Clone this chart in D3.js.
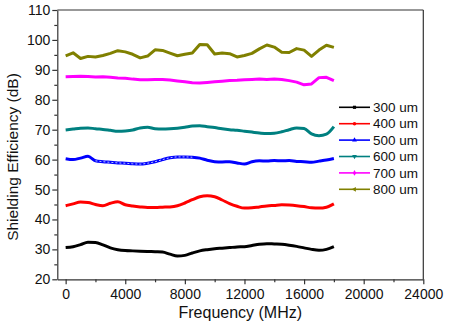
<!DOCTYPE html>
<meta charset="utf-8">
<style type="text/css">
  body { margin: 0; background: #fff; }
  svg { display: block; }
  text { font-family: "Liberation Sans", Arial, sans-serif; fill: #111; }
  .axis path, .axis line { stroke: #333; stroke-width: 1.2px; }
  .axis text { font-size: 14px; }
</style>
<body>
<script src="https://cdn.jsdelivr.net/npm/d3@7/dist/d3.min.js"></script>
<script>

// sample frequencies (MHz), one reading every 500 MHz
var freq = d3.range(0, 18001, 500);

var se300 = [30.6, 30.9, 31.6, 32.4, 32.3, 31.5, 30.5, 29.9, 29.6, 29.5, 29.4, 29.3, 29.2, 29.1, 28.4, 27.8, 28.0, 28.8, 29.5,
             29.9, 30.2, 30.4, 30.6, 30.8, 30.9, 31.3, 31.7, 31.9, 31.8, 31.7, 31.4, 31.0, 30.5, 30.0, 29.7, 30.0, 30.9];
var se400 = [44.6, 45.2, 45.8, 45.7, 45.0, 44.6, 45.4, 45.9, 44.9, 44.5, 44.2, 44.0, 44.0, 44.1, 44.2, 44.6, 45.5, 46.6, 47.6,
             47.9, 47.6, 46.5, 45.3, 44.4, 43.8, 43.9, 44.2, 44.5, 44.7, 44.9, 44.8, 44.6, 44.3, 43.9, 43.8, 44.1, 45.2];
var se500 = [60.3, 60.0, 60.5, 61.1, 59.6, 59.3, 59.1, 58.9, 58.8, 58.6, 58.5, 58.8, 59.3, 60.0, 60.6, 60.9, 60.9, 60.8, 60.5,
             59.8, 59.3, 59.2, 59.3, 58.9, 58.5, 59.3, 59.6, 59.5, 59.7, 59.6, 59.7, 59.4, 59.3, 59.1, 59.5, 59.9, 60.4];
var se600 = [69.9, 70.2, 70.5, 70.6, 70.3, 70.1, 69.8, 69.5, 69.6, 69.9, 70.6, 70.8, 70.3, 70.2, 70.3, 70.5, 70.8, 71.2, 71.3,
             71.0, 70.7, 70.3, 70.0, 69.8, 69.5, 69.2, 68.9, 68.7, 68.8, 69.3, 70.0, 70.6, 70.4, 68.6, 68.0, 68.5, 71.0];
var se700 = [87.7, 87.8, 87.9, 87.8, 87.6, 87.7, 87.5, 87.3, 87.2, 86.9, 86.7, 86.7, 86.8, 86.8, 86.6, 86.3, 86.0, 85.7, 85.6,
             85.8, 86.0, 86.2, 86.4, 86.5, 86.7, 86.8, 86.9, 86.8, 86.9, 86.8, 86.4, 85.9, 85.0, 85.3, 87.4, 87.5, 86.4];
var se800 = [94.7, 95.7, 93.8, 94.5, 94.3, 94.8, 95.5, 96.4, 96.0, 95.2, 94.0, 94.6, 96.7, 96.5, 95.6, 94.7, 95.2, 95.6, 98.5,
             98.4, 95.3, 95.6, 95.4, 94.3, 94.8, 95.5, 97.0, 98.3, 97.6, 95.9, 95.8, 97.1, 96.6, 94.5, 96.6, 98.2, 97.5];

var labels = ["300 um", "400 um", "500 um", "600 um", "700 um", "800 um"];
var colors = ["#000000", "#ff0000", "#0000ff", "#008080", "#ff00ff", "#808000"];
var shapes = [d3.symbolSquare, d3.symbolCircle, d3.symbolTriangle, d3.symbolTriangle, d3.symbolDiamond, d3.symbolTriangle];
var shapeTurn = [0, 0, 0, 180, 0, -90];
// the noisier traces keep their straight segments
var curves = [d3.curveMonotoneX, d3.curveMonotoneX, d3.curveMonotoneX, d3.curveMonotoneX, d3.curveLinear, d3.curveLinear];

var xTicks = [0, 4000, 8000, 12000, 16000, 20000, 24000];
var yTicks = [20, 30, 40, 50, 60, 70, 80, 90, 100, 110];

var series = [se300, se400, se500, se600, se700, se800].map(function(vals, i){
  return {
    name: labels[i],
    color: colors[i],
    curve: curves[i],
    points: vals.map(function(v, j){ return {f: freq[j], se: v}; })
  };
});

var width = 450, height = 334;
var margin = {top: 10, right: 26.7, bottom: 54.7, left: 57.3};
var innerW = width - margin.left - margin.right,
    innerH = height - margin.top - margin.bottom;

var svg = d3.select("body").append("svg")
  .attr("width", width)
  .attr("height", height);

var chart = svg.append("g")
  .attr("transform", "translate(" + margin.left + "," + margin.top + ")");

var x = d3.scaleLinear().domain([-560, 24000]).range([0, innerW]);
var y = d3.scaleLinear().domain([20, 110]).range([innerH, 0]);

// minor ticks first, then the labelled major ticks on top
chart.append("g")
  .attr("class", "axis")
  .attr("transform", "translate(0," + innerH + ")")
  .call(d3.axisBottom(x).tickValues(d3.range(2000, 24000, 4000)).tickSize(3).tickFormat(""))
  .select(".domain").remove();

chart.append("g")
  .attr("class", "axis")
  .call(d3.axisLeft(y).tickValues(d3.range(25, 110, 10)).tickSize(3).tickFormat(""))
  .select(".domain").remove();

chart.append("g")
  .attr("class", "axis")
  .attr("transform", "translate(0," + innerH + ")")
  .call(d3.axisBottom(x).tickValues(xTicks).tickSize(5).tickSizeOuter(0).tickPadding(5).tickFormat(d3.format("d")));

chart.append("g")
  .attr("class", "axis")
  .call(d3.axisLeft(y).tickValues(yTicks).tickSize(5).tickSizeOuter(0).tickPadding(2).tickFormat(d3.format("d")));

// top and right frame lines
chart.append("line")
  .attr("x1", 0).attr("x2", innerW).attr("y1", 0).attr("y2", 0)
  .attr("stroke", "#333").attr("stroke-width", 1.2);
chart.append("line")
  .attr("x1", innerW).attr("x2", innerW).attr("y1", 0).attr("y2", innerH)
  .attr("stroke", "#333").attr("stroke-width", 1.2);

chart.selectAll(".series")
  .data(series)
  .enter().append("path")
  .attr("class", "series")
  .attr("fill", "none")
  .attr("stroke", function(d){ return d.color; })
  .attr("stroke-width", 3)
  .attr("stroke-linejoin", "round")
  .attr("d", function(d){
    return d3.line()
      .x(function(p){ return x(p.f); })
      .y(function(p){ return y(p.se); })
      .curve(d.curve)(d.points);
  });

// light marker speckle along the middle stretch of the 500 um trace
chart.append("path")
  .attr("fill", "none")
  .attr("stroke", "#b8c4ff")
  .attr("stroke-width", 1)
  .attr("stroke-dasharray", "2,2")
  .attr("d", d3.line()
    .x(function(p){ return x(p.f); })
    .y(function(p){ return y(p.se); })
    .curve(d3.curveMonotoneX)(series[2].points.filter(function(p){ return p.f >= 2000 && p.f <= 8500; })));

// axis titles
svg.append("text")
  .attr("x", margin.left + innerW / 2)
  .attr("y", 318)
  .attr("text-anchor", "middle")
  .style("font-size", "16px")
  .text("Frequency (MHz)");

svg.append("text")
  .attr("transform", "translate(18,157) rotate(-90)")
  .attr("text-anchor", "middle")
  .style("font-size", "15.5px")
  .text("Shielding Efficiency (dB)");

// legend
var legend = svg.append("g")
  .attr("transform", "translate(339,107.3)");

var item = legend.selectAll("g")
  .data(series)
  .enter().append("g")
  .attr("transform", function(d, i){ return "translate(0," + (i * 16.4) + ")"; });

item.append("line")
  .attr("x1", 0).attr("x2", 31)
  .attr("stroke", function(d){ return d.color; })
  .attr("stroke-width", 1.6);

item.append("path")
  .attr("transform", function(d, i){ return "translate(15.5,0) rotate(" + shapeTurn[i] + ")"; })
  .attr("d", function(d, i){ return d3.symbol().type(shapes[i]).size(10)(); })
  .attr("fill", function(d){ return d.color; });

item.append("text")
  .attr("x", 34)
  .attr("dy", "0.35em")
  .style("font-size", "13.5px")
  .text(function(d){ return d.name; });

</script>
</body>
